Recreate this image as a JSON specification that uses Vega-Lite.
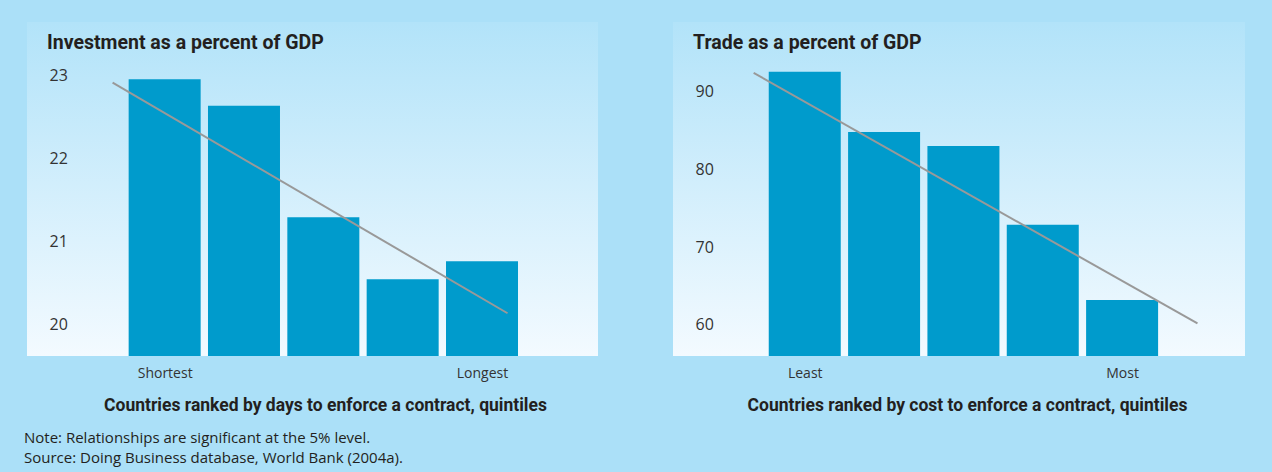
{
  "$schema": "https://vega.github.io/schema/vega-lite/v6.json",
  "background": "#abe0f8",
  "padding": {"left": 24, "top": 22, "right": 27, "bottom": 10},
  "datasets": {
    "inv": [
      {"rank": 1, "value": 22.96},
      {"rank": 2, "value": 22.64},
      {"rank": 3, "value": 21.29},
      {"rank": 4, "value": 20.54},
      {"rank": 5, "value": 20.76}
    ],
    "invTrend": [
      {"rank": 0.344, "value": 22.92},
      {"rank": 5.322, "value": 20.13}
    ],
    "trade": [
      {"rank": 1, "value": 92.6},
      {"rank": 2, "value": 84.85},
      {"rank": 3, "value": 83.05},
      {"rank": 4, "value": 72.9},
      {"rank": 5, "value": 63.2}
    ],
    "tradeTrend": [
      {"rank": 0.356, "value": 92.45},
      {"rank": 5.95, "value": 60.2}
    ]
  },
  "title": {
    "text": ["Note: Relationships are significant at the 5% level.", "Source: Doing Business database, World Bank (2004a)."],
    "orient": "bottom",
    "anchor": "start",
    "offset": 17,
    "dx": -3,
    "font": "Open Sans",
    "fontSize": 15,
    "fontWeight": "normal",
    "color": "#231f20",
    "lineHeight": 20
  },
  "spacing": 75,
  "hconcat": [
    {
      "width": 571,
      "height": 334,
      "title": {"text": "Investment as a percent of GDP", "anchor": "start", "orient": "top", "baseline": "top", "offset": -31, "dx": 20, "font": "Roboto", "fontSize": 19.5, "fontWeight": "bold", "color": "#231f20"},
      "layer": [
        {
          "data": {"name": "inv"},
          "mark": {"type": "bar", "width": 72, "color": "#009bcc", "clip": true},
          "encoding": {
            "x": {"field": "rank", "type": "quantitative", "scale": {"domain": [-0.672, 6.399], "nice": false, "zero": false},
              "axis": {"values": [1, 5], "labelExpr": "datum.value == 1 ? 'Shortest' : 'Longest'", "grid": false, "domain": false, "ticks": false, "labelPadding": 10, "labelFontSize": 14, "labelFont": "Open Sans", "labelColor": "#333333",
                "title": "Countries ranked by days to enforce a contract, quintiles", "titleFont": "Roboto", "titleFontSize": 17.5, "titleFontWeight": "bold", "titleColor": "#231f20", "titlePadding": 16, "titleX": 298}},
            "y": {"field": "value", "type": "quantitative", "scale": {"domain": [19.613, 23.653], "nice": false, "zero": false},
              "axis": {"values": [20, 21, 22, 23], "format": "d", "grid": false, "domain": false, "ticks": false, "labelAlign": "left", "labelPadding": 0, "offset": -22, "labelFontSize": 16, "labelFont": "Open Sans", "labelColor": "#333333", "title": null}}
          }
        },
        {
          "data": {"name": "invTrend"},
          "mark": {"type": "line", "color": "#999999", "strokeWidth": 2},
          "encoding": {
            "x": {"field": "rank", "type": "quantitative"},
            "y": {"field": "value", "type": "quantitative"}
          }
        }
      ]
    },
    {
      "width": 572,
      "height": 334,
      "title": {"text": "Trade as a percent of GDP", "anchor": "start", "orient": "top", "baseline": "top", "offset": -31, "dx": 20, "font": "Roboto", "fontSize": 19.5, "fontWeight": "bold", "color": "#231f20"},
      "layer": [
        {
          "data": {"name": "trade"},
          "mark": {"type": "bar", "width": 72, "color": "#009bcc", "clip": true},
          "encoding": {
            "x": {"field": "rank", "type": "quantitative", "scale": {"domain": [-0.5975, 6.486], "nice": false, "zero": false},
              "axis": {"values": [1, 5], "labelExpr": "datum.value == 1 ? 'Least' : 'Most'", "grid": false, "domain": false, "ticks": false, "labelPadding": 10, "labelFontSize": 14, "labelFont": "Open Sans", "labelColor": "#333333",
                "title": "Countries ranked by cost to enforce a contract, quintiles", "titleFont": "Roboto", "titleFontSize": 17.5, "titleFontWeight": "bold", "titleColor": "#231f20", "titlePadding": 16, "titleX": 294}},
            "y": {"field": "value", "type": "quantitative", "scale": {"domain": [56.0, 99.0], "nice": false, "zero": false},
              "axis": {"values": [60, 70, 80, 90], "format": "d", "grid": false, "domain": false, "ticks": false, "labelAlign": "left", "labelPadding": 0, "offset": -22, "labelFontSize": 16, "labelFont": "Open Sans", "labelColor": "#333333", "title": null}}
          }
        },
        {
          "data": {"name": "tradeTrend"},
          "mark": {"type": "line", "color": "#999999", "strokeWidth": 2},
          "encoding": {
            "x": {"field": "rank", "type": "quantitative"},
            "y": {"field": "value", "type": "quantitative"}
          }
        }
      ]
    }
  ],
  "config": {
    "view": {
      "stroke": null,
      "fill": {"gradient": "linear", "x1": 0, "y1": 0, "x2": 0, "y2": 1, "stops": [{"offset": 0, "color": "#b2e3f9"}, {"offset": 1, "color": "#f3faff"}]}
    }
  }
}
